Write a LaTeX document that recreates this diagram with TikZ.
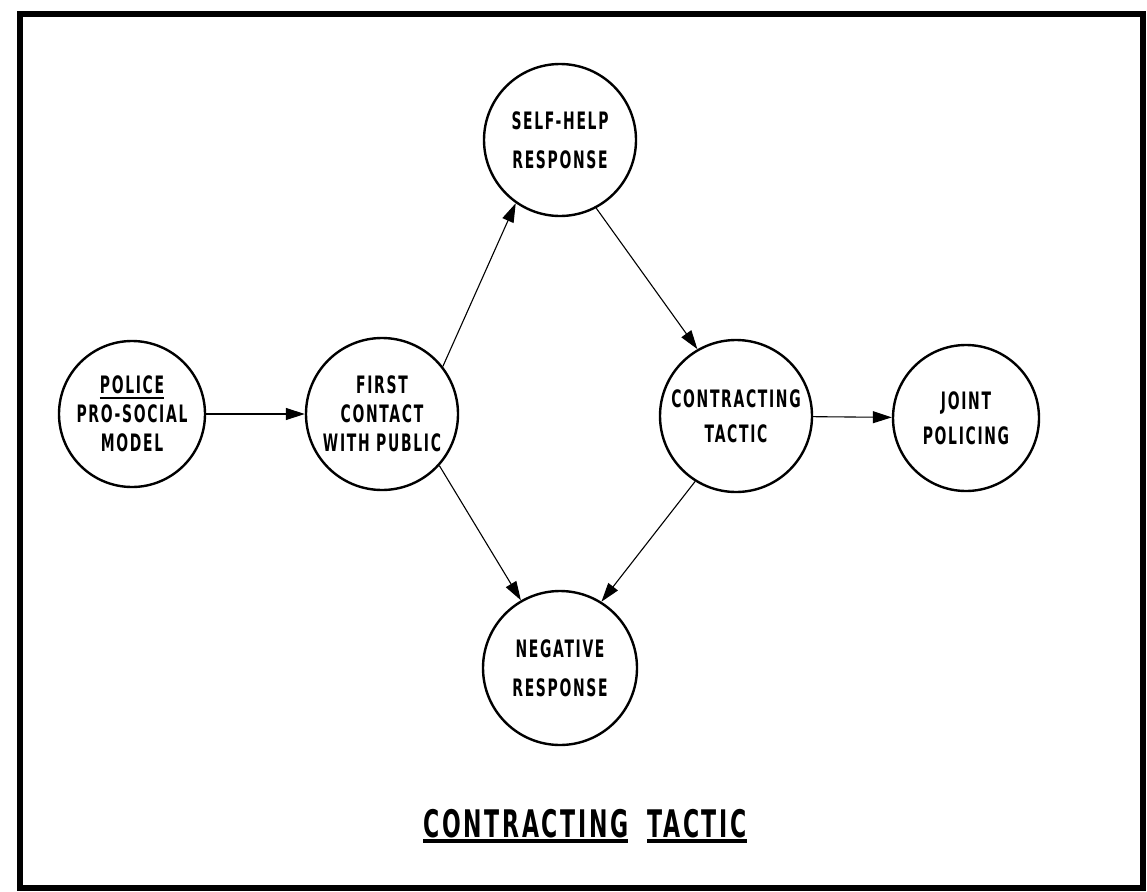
\documentclass[tikz,border=0pt]{standalone}
\usepackage{fontspec}
\setmainfont{DejaVu Sans}[FakeStretch=0.58,LetterSpace=7]
\usetikzlibrary{arrows.meta}
% underline with a heavy rule, as in the hand lettering
\newcommand\ulword[2][2pt]{\setbox0\hbox{#2}\rlap{\rule[-5pt]{\wd0}{#1}}\box0}

\begin{document}
\begin{tikzpicture}[x=1pt,y=-1pt,
  stage/.style={draw,circle,line width=2.4pt,minimum size=152pt,inner sep=0pt,align=center,font=\bfseries\fontsize{24}{29}\selectfont},
  flow/.style={-{Triangle[length=19pt,width=12pt]},line width=1.1pt}]
\useasboundingbox (0,0) rectangle (1147,891);
\draw[line width=6pt] (20,14) rectangle (1143,888);
\node[stage,minimum size=146pt] (police) at (132,414) {\ulword{POLICE}\\PRO-SOCIAL\\MODEL};
\node[stage] (first) at (382,414) {FIRST\\CONTACT\\WITH PUBLIC};
\node[stage] (self) at (560,140) {SELF-HELP\\[10pt]RESPONSE};
\node[stage] (contract) at (736,416) {CONTRACTING\\[6pt]TACTIC};
\node[stage,minimum size=146pt] (joint) at (966,418) {JOINT\\[6pt]POLICING};
\node[stage,minimum size=154pt] (neg) at (560,668) {NEGATIVE\\[10pt]RESPONSE};
\node[font=\bfseries\fontsize{38}{44}\selectfont] (title) at (585,826) {\ulword[3.5pt]{CONTRACTING}\enspace\ulword[3.5pt]{TACTIC}};
\draw[flow] (police) -- (first);
\draw[flow] (first.38) -- (self.235);
\draw[flow] (self.-62) -- (contract.120);
\draw[flow] (first.-42) -- (neg.120);
\draw[flow] (contract.-122) -- (neg.58);
\draw[flow] (contract) -- (joint);
\end{tikzpicture}
\end{document}
